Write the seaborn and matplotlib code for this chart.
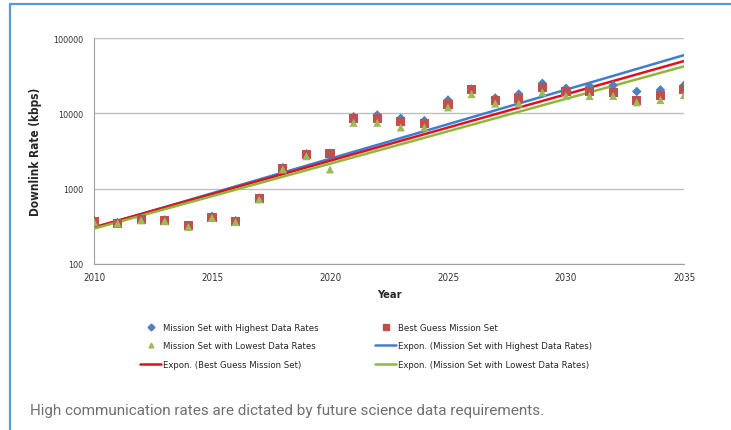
import numpy as np
import pandas as pd
import matplotlib
matplotlib.use("Agg")
import matplotlib.pyplot as plt
from matplotlib.lines import Line2D
import seaborn as sns

years = list(range(2010, 2036))
highest = [380, 355, 400, 385, 325, 430, 375, 750, 1900, 2900, 2950, 9000, 9500, 8600, 8000,
           15000, 21000, 16000, 18000, 25000, 21500, 23000, 23500, 19500, 20500, 23500]
best_guess = [370, 350, 390, 380, 320, 420, 370, 730, 1850, 2850, 2900, 8500, 8600, 7800, 7300,
              13000, 20500, 15000, 15500, 22000, 19500, 19500, 19000, 15000, 17000, 20500]
lowest = [360, 345, 380, 370, 310, 410, 360, 720, 1800, 2700, 1800, 7500, 7500, 6500, 6500,
          12000, 18000, 13500, 13500, 19000, 17000, 17000, 17000, 14000, 15000, 17500]

names = ["Mission Set with Highest Data Rates", "Best Guess Mission Set",
         "Mission Set with Lowest Data Rates"]

df = pd.DataFrame({"Year": years, names[0]: highest, names[1]: best_guess, names[2]: lowest})

sns.set_style("white")
plt.rcParams["font.family"] = ["DejaVu Sans"]
plt.rcParams["font.stretch"] = "condensed"

fig = plt.figure(figsize=(7.31, 4.31), dpi=100)
ax = fig.add_axes([94 / 731, 1 - 265 / 431, 590 / 731, 226 / 431])

marker_colors = ["#4F81BD", "#C0504D", "#9BBB59"]
markers = ["D", "s", "^"]
sizes = [24, 42, 34]
trend_colors = ["#3E7ED0", "#E0101E", "#8DB83A"]

# exponential trendlines (fit on log scale, like Excel's "Expon.")
xs = np.array([2010, 2035])
for name, c in zip(names, trend_colors):
    k, b = np.polyfit(df["Year"], np.log(df[name]), 1)
    fit = pd.DataFrame({"Year": xs, "v": np.exp(b + k * xs)})
    sns.lineplot(data=fit, x="Year", y="v", color=c, lw=1.8, ax=ax, zorder=2)

for name, c, m, s in zip(names, marker_colors, markers, sizes):
    sns.scatterplot(data=df, x="Year", y=name, color=c, marker=m, s=s,
                    edgecolor="none", ax=ax, zorder=3)

ax.set_yscale("log")
ax.set_ylim(100, 100000)
ax.set_xlim(2010, 2035)
ax.set_xticks(range(2010, 2036, 5))
ax.set_yticks([100, 1000, 10000, 100000])
ax.set_yticklabels(["100", "1000", "10000", "100000"])
ax.yaxis.set_minor_locator(matplotlib.ticker.NullLocator())
ax.grid(axis="y", color="#BFBFBF", lw=1)
for sp in ["top", "right"]:
    ax.spines[sp].set_visible(False)
for sp in ["left", "bottom"]:
    ax.spines[sp].set_color("#A0A0A0")
ax.tick_params(axis="x", length=3, color="#A0A0A0", labelsize=7, pad=3, labelcolor="#333333")
ax.tick_params(axis="y", length=0, labelsize=6.5, pad=8, labelcolor="#333333")
ax.set_xlabel("Year", fontsize=8, fontweight="bold", labelpad=5)
ax.set_ylabel("Downlink Rate (kbps)", fontsize=8.5, fontweight="bold", labelpad=8)

# legend in Excel order (column-major fill)
h = [Line2D([], [], ls="none", marker="D", color=marker_colors[0], ms=3.5),
     Line2D([], [], ls="none", marker="^", color=marker_colors[2], ms=3.5),
     Line2D([], [], color=trend_colors[1], lw=1.8),
     Line2D([], [], ls="none", marker="s", color=marker_colors[1], ms=4.5),
     Line2D([], [], color=trend_colors[0], lw=1.8),
     Line2D([], [], color=trend_colors[2], lw=1.8)]
labels = [names[0], names[2], "Expon. (Best Guess Mission Set)",
          names[1], "Expon. (Mission Set with Highest Data Rates)",
          "Expon. (Mission Set with Lowest Data Rates)"]
fig.legend(h, labels, loc="center", bbox_to_anchor=(366 / 731, 1 - 347 / 431), ncol=2,
           frameon=False, fontsize=6.8, handlelength=2.2, handletextpad=0.2,
           columnspacing=6, labelspacing=1.0)

fig.text(30 / 731, 1 - 411 / 431,
         "High communication rates are dictated by future science data requirements.",
         fontsize=11, color="#707070", family=["Roboto", "DejaVu Sans"],
         fontweight="normal", fontstretch="normal", va="center")

# blue frame on top and left
border = "#5B9BD5"
fig.add_artist(Line2D([10 / 731, 1], [1 - 5 / 431] * 2, color=border, lw=1.6,
                      transform=fig.transFigure))
fig.add_artist(Line2D([10 / 731] * 2, [0, 1 - 5 / 431], color=border, lw=1.6,
                      transform=fig.transFigure))

fig.savefig("out.png", dpi=100)
